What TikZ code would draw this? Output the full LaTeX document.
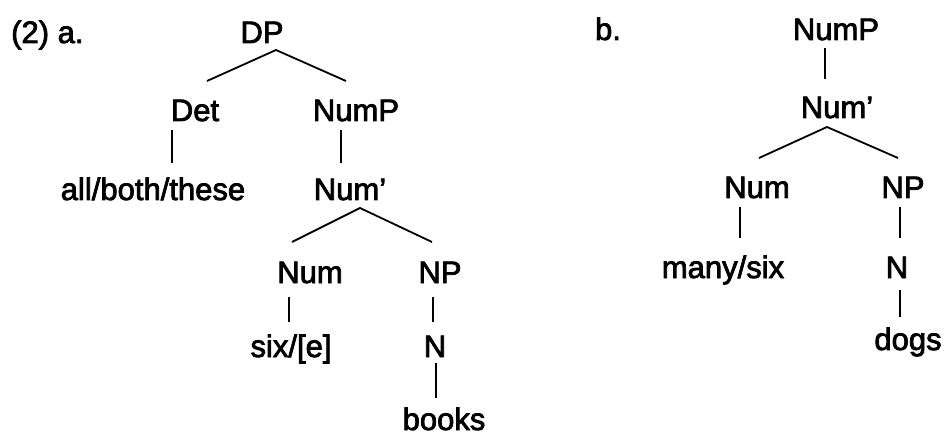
\documentclass[tikz,border=0pt]{standalone}
\usepackage{fontspec}
\setmainfont{Liberation Sans}
\newfontfamily\treefont{Liberation Sans}[FakeBold=2.5,Ligatures=TeX]
\begin{document}
\begin{tikzpicture}[x=1pt,y=-1pt,
  lbl/.style={anchor=base, inner sep=0pt, font=\treefont\fontsize{31}{35}\selectfont},
  br/.style={line width=1.8pt}]
\useasboundingbox (0,0) rectangle (944,438);
% ---- tree a ----
\node[lbl, anchor=base west] (exa) at (11,43) {(2) a.};
\node[lbl] (dp) at (262,43) {DP};
\node[lbl] (det) at (195,121) {Det};
\node[lbl] (numpa) at (356,121) {NumP};
\node[lbl] (abt) at (153,200) {all/both/these};
\node[lbl] (numbara) at (350,200) {Num’};
\node[lbl] (numa) at (310,283) {Num};
\node[lbl] (npa) at (440,283) {NP};
\node[lbl] (sixe) at (291,357) {six/[e]};
\node[lbl] (na) at (435,357) {N};
\node[lbl] (books) at (444,430) {books};
\coordinate (dpB) at (276,50);
\coordinate (detT) at (207,81);
\coordinate (numpaT) at (346,81);
\coordinate (detB) at (172,130);
\coordinate (abtT) at (172,163);
\coordinate (numpaB) at (341,130);
\coordinate (numbaraT) at (341,163);
\coordinate (numbaraB) at (360,208);
\coordinate (numaT) at (292,242);
\coordinate (npaT) at (432,242);
\coordinate (numaB) at (289,297);
\coordinate (sixeT) at (289,322);
\coordinate (npaB) at (433,297);
\coordinate (naT) at (433,322);
\coordinate (naB) at (436,363);
\coordinate (booksT) at (436,398);
\draw[br] (detT) -- (dpB) -- (numpaT);
\draw[br] (detB) -- (abtT);
\draw[br] (numpaB) -- (numbaraT);
\draw[br] (numaT) -- (numbaraB) -- (npaT);
\draw[br] (numaB) -- (sixeT);
\draw[br] (npaB) -- (naT);
\draw[br] (naB) -- (booksT);
% ---- tree b ----
\node[lbl] (exb) at (608,40) {b.};
\node[lbl] (numpb) at (836,40) {NumP};
\node[lbl] (numbarb) at (837,118) {Num’};
\node[lbl] (numb) at (757,198) {Num};
\node[lbl] (npb) at (903,198) {NP};
\node[lbl] (manysix) at (723,278) {many/six};
\node[lbl] (nb) at (897,278) {N};
\node[lbl] (dogs) at (908,350) {dogs};
\coordinate (numpbB) at (825,48);
\coordinate (numbarbT) at (825,79);
\coordinate (numbarbB) at (827,127);
\coordinate (numbT) at (759,158);
\coordinate (npbT) at (898,158);
\coordinate (numbB) at (740,207);
\coordinate (manysixT) at (740,238);
\coordinate (npbB) at (900,207);
\coordinate (nbT) at (900,238);
\coordinate (nbB) at (900,290);
\coordinate (dogsT) at (900,317);
\draw[br] (numpbB) -- (numbarbT);
\draw[br] (numbT) -- (numbarbB) -- (npbT);
\draw[br] (numbB) -- (manysixT);
\draw[br] (npbB) -- (nbT);
\draw[br] (nbB) -- (dogsT);
\end{tikzpicture}
\end{document}
